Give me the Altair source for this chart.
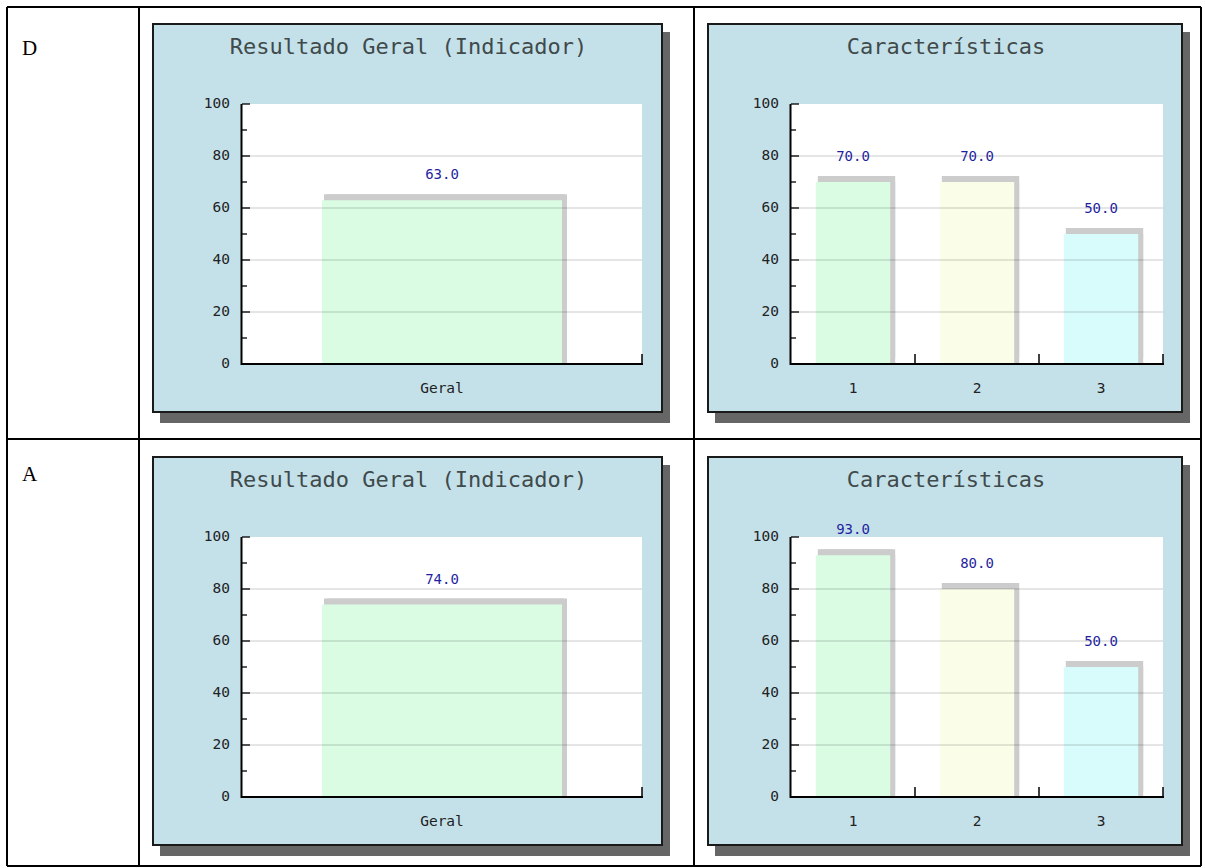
import altair as alt
import pandas as pd

# ---------------- data ----------------
row_labels = ["D", "A"]
panel_titles = ["Resultado Geral (Indicador)", "Características"]
geral_categories = ["Geral"]
geral_values_D = [63.0]
geral_values_A = [74.0]
carac_categories = ["1", "2", "3"]
carac_values_D = [70.0, 70.0, 50.0]
carac_values_A = [93.0, 80.0, 50.0]
y_major_ticks = [0, 20, 40, 60, 80, 100]
y_minor_ticks = [10, 30, 50, 70, 90]
grid_values = [20, 40, 60, 80]

# ---------------- styles / layout ----------------
geral_colors = ["#d9fce3"]
carac_colors = ["#d9fce3", "#fafde8", "#d8fcfc"]
PANEL_BG = "#c4e1ea"
PANEL_SHADOW = "#666666"
BAR_SHADOW = "#cccccc"
TITLE_COLOR = "#404a4a"
VALUE_COLOR = "#1f1f9f"
MONO = "DejaVu Sans Mono"
W, H = 1205, 868
ROW_DY = [0, 433]
LEFT = dict(box=(153, 662), plot=(242, 642))
RIGHT = dict(box=(708, 1182), plot=(791, 1163))
BOX_Y = (24, 412)
PLOT_Y = (104, 364)  # top, bottom
TITLE_Y = 47
XLABEL_Y = 389


def panel(cats, vals, colors, title, geo, dy):
    x0, x1 = geo["plot"]
    ytop, ybot = PLOT_Y[0] + dy, PLOT_Y[1] + dy
    n = len(cats)
    step = (x1 - x0) / n
    df = pd.DataFrame({"cat": cats, "v": vals, "col": colors,
                       "lbl": [f"{v:.1f}" for v in vals]})
    X = alt.X("cat:N", sort=cats,
              scale=alt.Scale(domain=cats, range=[x0, x1], paddingInner=0.4, paddingOuter=0.2),
              axis=None)
    Y = alt.Y("v:Q", scale=alt.Scale(domain=[0, 100], range=[ybot, ytop]), axis=None)

    bx0, bx1 = geo["box"]
    by0, by1 = BOX_Y[0] + dy, BOX_Y[1] + dy
    deco = pd.DataFrame({
        "x": [bx0 + 7, bx0, x0],
        "x2": [bx1 + 8, bx1, x1],
        "y": [by0 + 8, by0, ytop],
        "y2": [by1 + 11, by1, ybot],
        "fill": [PANEL_SHADOW, PANEL_BG, "white"],
        "stroke": [PANEL_SHADOW, "#1a1a1a", "white"],
        "sw": [0, 2, 0],
    })
    deco_layer = alt.Chart(deco).mark_rect().encode(
        x=alt.X("x:Q", scale=None), x2="x2:Q",
        y=alt.Y("y:Q", scale=None), y2="y2:Q",
        color=alt.Color("fill:N", scale=None),
        stroke=alt.Stroke("stroke:N", scale=None),
        strokeWidth=alt.StrokeWidth("sw:Q", scale=None),
    )
    title_layer = alt.Chart(pd.DataFrame({"t": [title]})).mark_text(
        font=MONO, fontSize=22, color=TITLE_COLOR, baseline="middle", align="center"
    ).encode(x=alt.value((bx0 + bx1) / 2 + 1), y=alt.value(TITLE_Y + dy), text="t:N")

    base = alt.Chart(df)
    # 3-D extrusion: union of shifted copies of each bar
    shadow_a = base.mark_bar(color=BAR_SHADOW, xOffset=5, yOffset=-6).encode(x=X, y=Y)
    shadow_b = base.mark_bar(color=BAR_SHADOW, xOffset=5).encode(x=X, y=Y)
    shadow_c = base.mark_bar(color=BAR_SHADOW, xOffset=2, yOffset=-6).encode(x=X, y=Y)
    bars = base.mark_bar().encode(x=X, y=Y, color=alt.Color("col:N", scale=None))
    values = base.mark_text(font=MONO, fontSize=14, color=VALUE_COLOR, dy=-25,
                            baseline="middle").encode(x=X, y=Y, text="lbl:N")

    grid = alt.Chart(pd.DataFrame({"v": grid_values})).mark_rule(
        color="black", opacity=0.1, strokeWidth=2
    ).encode(y=Y, x=alt.value(x0), x2=alt.value(x1))
    major = alt.Chart(pd.DataFrame({"v": y_major_ticks}))
    minor = alt.Chart(pd.DataFrame({"v": y_minor_ticks}))
    major_ticks = major.mark_rule(color="black", strokeWidth=1.3).encode(
        y=Y, x=alt.value(x0), x2=alt.value(x0 + 8))
    minor_ticks = minor.mark_rule(color="black", strokeWidth=1.3).encode(
        y=Y, x=alt.value(x0), x2=alt.value(x0 + 5))
    ylabels = major.mark_text(font=MONO, fontSize=14.5, color="#222", align="right",
                              baseline="middle").encode(
        y=Y, x=alt.value(x0 - 12), text=alt.Text("v:Q", format="d"))
    yaxis = alt.Chart(pd.DataFrame({"v": [0]})).mark_rule(color="black", strokeWidth=2).encode(
        x=alt.value(x0 - 0.5), y=alt.value(ytop), y2=alt.value(ybot + 1))
    xaxis = alt.Chart(pd.DataFrame({"v": [0]})).mark_rule(color="black", strokeWidth=2).encode(
        x=alt.value(x0 - 1), x2=alt.value(x1 + 1), y=alt.value(ybot))
    xticks = base.mark_rule(color="black", strokeWidth=1.5, xOffset=step / 2).encode(
        x=X, y=alt.value(ybot - 10), y2=alt.value(ybot))
    xlabels = base.mark_text(font=MONO, fontSize=14.5, color="#222", baseline="middle").encode(
        x=X, y=alt.value(XLABEL_Y + dy), text="cat:N")

    return alt.layer(deco_layer, title_layer, shadow_a, shadow_b, shadow_c, bars, grid,
                     yaxis, xaxis, major_ticks, minor_ticks, xticks, ylabels, xlabels, values)


# table frame
table = pd.DataFrame({
    "x": [7, 7, 7, 1201, 139, 694, 7],
    "x2": [1201, 1201, 7, 1201, 139, 694, 1201],
    "y": [7, 866, 7, 7, 7, 7, 439],
    "y2": [7, 866, 866, 866, 866, 866, 439],
})
table_layer = alt.Chart(table).mark_rule(color="black", strokeWidth=2).encode(
    x=alt.X("x:Q", scale=None), x2="x2:Q", y=alt.Y("y:Q", scale=None), y2="y2:Q")

row_df = pd.DataFrame({"t": row_labels, "y": [55, 481]})
row_layer = alt.Chart(row_df).mark_text(
    font="Liberation Serif", fontSize=21, color="black", align="left", baseline="alphabetic"
).encode(x=alt.value(22), y=alt.Y("y:Q", scale=None), text="t:N")

panels = [
    panel(geral_categories, geral_values_D, geral_colors, panel_titles[0], LEFT, ROW_DY[0]),
    panel(carac_categories, carac_values_D, carac_colors, panel_titles[1], RIGHT, ROW_DY[0]),
    panel(geral_categories, geral_values_A, geral_colors, panel_titles[0], LEFT, ROW_DY[1]),
    panel(carac_categories, carac_values_A, carac_colors, panel_titles[1], RIGHT, ROW_DY[1]),
]

chart = alt.layer(table_layer, row_layer, *panels).resolve_scale(
    x="independent", y="independent", color="independent"
).properties(
    width=W, height=H, autosize=alt.AutoSizeParams(type="none"), padding=0, background="white"
).configure_view(stroke=None)

chart.save("out.html", embed_options={"renderer": "svg", "actions": False})
